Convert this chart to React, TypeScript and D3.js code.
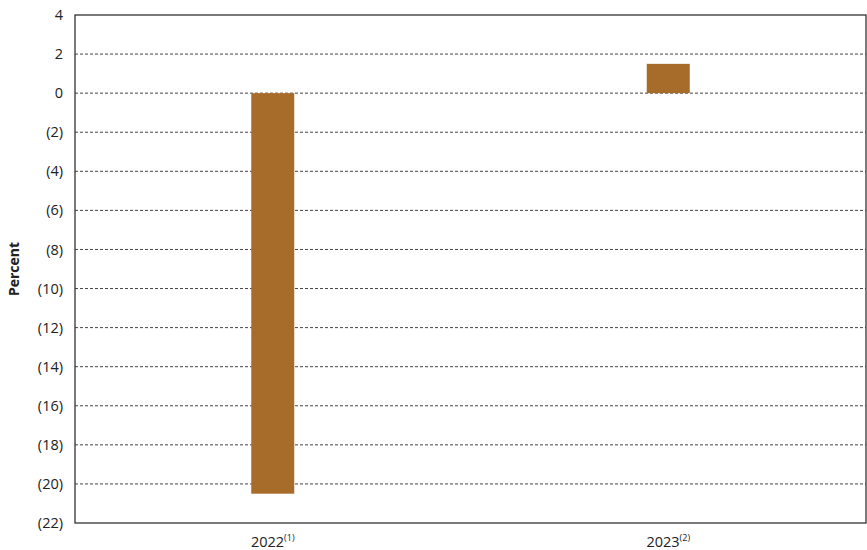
import React from "react";
import * as d3 from "d3";

const categories = ["2022", "2023"];
const superscripts = ["(1)", "(2)"];
const values = [-20.5, 1.5];
const yTicks = [4, 2, 0, -2, -4, -6, -8, -10, -12, -14, -16, -18, -20, -22];

const W = 867;
const H = 550;
const M = { left: 75, right: 1, top: 15, bottom: 27 };
const FONT = "'Open Sans', 'Noto Sans', sans-serif";

export default function App() {
  const x = d3
    .scalePoint<string>()
    .domain(categories)
    .range([M.left, W - M.right])
    .padding(0.5);
  const y = d3.scaleLinear().domain([-22, 4]).range([H - M.bottom, M.top]);
  const barW = 43;
  const fmt = (v: number) => (v < 0 ? `(${Math.abs(v)})` : `${v}`);
  const plotL = M.left;
  const plotR = W - M.right;
  const plotT = M.top;
  const plotB = H - M.bottom;

  return (
    <svg
      width={W}
      height={H}
      style={{ position: "absolute", left: 0, top: 0, background: "#fff" }}
    >
      {yTicks
        .filter((t) => t !== 4 && t !== -22)
        .map((t) => (
          <line
            key={t}
            x1={plotL}
            x2={plotR}
            y1={y(t)}
            y2={y(t)}
            stroke="#444"
            strokeWidth={1}
            strokeDasharray="3,2"
          />
        ))}
      {categories.map((c, i) => {
        const v = values[i];
        return (
          <rect
            key={c}
            x={(x(c) as number) - barW / 2}
            y={y(Math.max(0, v))}
            width={barW}
            height={Math.abs(y(v) - y(0))}
            fill="#A86C2A"
          />
        );
      })}
      <rect
        x={plotL}
        y={plotT}
        width={plotR - plotL}
        height={plotB - plotT}
        fill="none"
        stroke="#333"
        strokeWidth={1.3}
      />
      {yTicks.map((t) => (
        <text
          key={t}
          x={plotL - 12}
          y={y(t)}
          dy="0.35em"
          textAnchor="end"
          fontFamily={FONT}
          fontSize={14.5}
          fill="#222"
        >
          {fmt(t)}
        </text>
      ))}
      {categories.map((c, i) => (
        <text
          key={c}
          x={x(c) as number}
          y={plotB + 24}
          textAnchor="middle"
          fontFamily={FONT}
          fontSize={14.5}
          fill="#222"
        >
          {c}
          <tspan fontSize={9} dy={-6}>
            {superscripts[i]}
          </tspan>
        </text>
      ))}
      <text
        transform={`translate(19,${(plotT + plotB) / 2}) rotate(-90)`}
        textAnchor="middle"
        fontFamily={FONT}
        fontSize={14}
        fontWeight="bold"
        fill="#222"
      >
        Percent
      </text>
    </svg>
  );
}
